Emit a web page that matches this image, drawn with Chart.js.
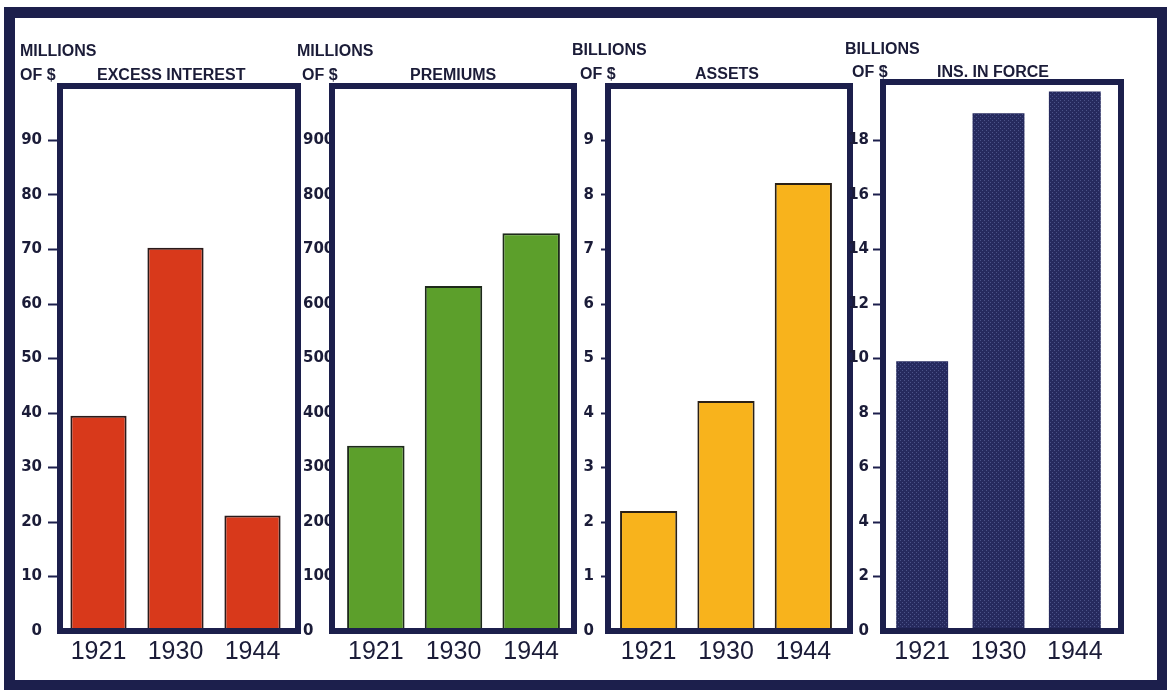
<!DOCTYPE html>
<html>
<head>
<meta charset="utf-8">
<title>Excess Interest, Premiums, Assets, Insurance in Force — 1921, 1930, 1944</title>
<script src="https://cdn.jsdelivr.net/npm/chart.js@4.4.1/dist/chart.umd.min.js"></script>
<style>
  html, body { margin: 0; padding: 0; background: #ffffff; }
  body { width: 1167px; height: 690px; position: relative; overflow: hidden; }
  #frame {
    position: absolute; left: 4px; top: 7px; width: 1142px; height: 662px;
    border: 11px solid #1c1f4c; box-sizing: content-box;
  }
  canvas { position: absolute; top: 0; }
</style>
</head>
<body>
<div id="frame"></div>
<div id="stage"></div>
<script>
// ---- data ----
const years = ['1921', '1930', '1944'];
const excessInterest = [39.5, 70.3, 21.2];   // millions of $
const premiums = [340, 633, 730];            // millions of $
const assets = [2.2, 4.22, 8.22];            // billions of $
const insInForce = [9.9, 19.0, 19.8];        // billions of $

const unitLines = ['MILLIONS', 'MILLIONS', 'BILLIONS', 'BILLIONS'];
const panelTitles = ['EXCESS INTEREST', 'PREMIUMS', 'ASSETS', 'INS. IN FORCE'];
const axisMax = [100, 1000, 10, 20];
const axisStep = [10, 100, 1, 2];

// ---- styling ----
const NAVY = '#1c1f4c';
const INK = '#1b1c38';
const TICK_FONT = { family: '"DejaVu Sans"', size: 15, weight: 'bold' };
const YEAR_FONT = { family: '"Liberation Sans"', size: 25, weight: 'normal' };
const TITLE_FONT = 'bold 16px "Liberation Sans"';

// halftone-like fill for the navy bars
function speckle(base, dot) {
  const c = document.createElement('canvas');
  c.width = 4; c.height = 4;
  const g = c.getContext('2d');
  g.fillStyle = base; g.fillRect(0, 0, 4, 4);
  g.fillStyle = dot;
  g.fillRect(0, 0, 1, 1); g.fillRect(2, 2, 1, 1);
  return g.createPattern(c, 'repeat');
}

// per-panel layout (page pixels)
const panels = [
  { values: excessInterest, color: '#d8391b', edge: '#2a1a1a', border: 2,
    canvasLeft: 15, padLeft: 0, axisWidth: 45, areaWidth: 231, box: { l: 0, r: 7, t: 0 },
    tickLen: 12, tickPad: 6, align: 'near', barPct: 0.73,
    text: [[unitLines[0], 20, 56], ['OF $', 20, 80], [panelTitles[0], 97, 80]] },
  { values: premiums, color: '#5c9f2b', edge: '#1d2a1a', border: 2,
    canvasLeft: 296, padLeft: 7, axisWidth: 34, areaWidth: 233, box: { l: -5, r: 4, t: 0 },
    tickLen: 0, tickPad: 0, align: 'far', barPct: 0.74,
    text: [[unitLines[1], 297, 56], ['OF $', 302, 80], [panelTitles[1], 410, 80]] },
  { values: assets, color: '#f8b31c', edge: '#2a2016', border: 2,
    canvasLeft: 568, padLeft: 0, axisWidth: 42, areaWidth: 232, box: { l: -2, r: 8, t: 0 },
    tickLen: 9, tickPad: 7, align: 'near', barPct: 0.74,
    text: [[unitLines[2], 572, 55], ['OF $', 580, 79], [panelTitles[2], 695, 79]] },
  { values: insInForce, color: null, edge: NAVY, border: 0,
    canvasLeft: 840, padLeft: 0, axisWidth: 44, areaWidth: 229, box: { l: -1, r: 8, t: -4 },
    tickLen: 11, tickPad: 4, align: 'near', barPct: 0.68,
    text: [[unitLines[3], 845, 54], ['OF $', 852, 77], [panelTitles[3], 937, 77]] }
];

// draws the heavy panel box and the panel headings
const panelFrame = {
  id: 'panelFrame',
  afterDatasetsDraw(chart, args, opts) {
    const a = chart.chartArea, b = opts.box, ctx = chart.ctx;
    ctx.save();
    ctx.strokeStyle = NAVY;
    ctx.lineWidth = 6;
    ctx.lineJoin = 'miter';
    ctx.strokeRect(a.left + b.l, a.top + b.t, (a.right + b.r) - (a.left + b.l), a.bottom - (a.top + b.t));
    ctx.restore();
  },
  afterDraw(chart, args, opts) {
    const ctx = chart.ctx;
    ctx.save();
    ctx.font = TITLE_FONT;
    ctx.fillStyle = INK;
    ctx.textBaseline = 'alphabetic';
    ctx.textAlign = 'left';
    opts.text.forEach(([s, x, y]) => ctx.fillText(s, x - opts.offset, y));
    ctx.restore();
  }
};

const stage = document.getElementById('stage');
const TOP = 86, BOTTOM_PAD = 29, XAXIS_H = 30, H = 690;

panels.forEach((p, i) => {
  const cv = document.createElement('canvas');
  const width = p.padLeft + p.axisWidth + p.areaWidth + 14;
  cv.width = width; cv.height = H;
  cv.style.left = p.canvasLeft + 'px';
  cv.style.width = width + 'px'; cv.style.height = H + 'px';
  stage.appendChild(cv);

  const max = axisMax[i];
  const fill = p.color || speckle('#262a5e', '#4b5388');

  new Chart(cv.getContext('2d'), {
    type: 'bar',
    data: {
      labels: years,
      datasets: [{
        data: p.values,
        backgroundColor: fill,
        borderColor: p.edge,
        borderWidth: p.border,
        borderSkipped: 'bottom',
        barPercentage: p.barPct,
        categoryPercentage: 1
      }]
    },
    options: {
      responsive: false,
      animation: false,
      devicePixelRatio: 1,
      layout: { padding: { left: p.padLeft, right: 14, top: TOP, bottom: BOTTOM_PAD } },
      plugins: {
        legend: { display: false },
        tooltip: { enabled: false },
        panelFrame: { box: p.box, text: p.text, offset: p.canvasLeft }
      },
      scales: {
        x: {
          grid: { display: false, drawTicks: false },
          border: { display: false },
          ticks: { font: YEAR_FONT, color: INK, padding: 6, maxRotation: 0 },
          afterFit(s) { s.height = XAXIS_H; }
        },
        y: {
          min: 0, max: max,
          ticks: {
            stepSize: axisStep[i], font: TICK_FONT, color: INK, padding: p.tickPad,
            crossAlign: p.align,
            callback: v => (v === max ? '' : String(v))
          },
          grid: {
            drawOnChartArea: false,
            drawTicks: p.tickLen > 0,
            tickLength: p.tickLen,
            tickWidth: 2,
            tickColor: c => (c.tick && (c.tick.value === 0 || c.tick.value === max)) ? 'rgba(0,0,0,0)' : NAVY
          },
          border: { display: false },
          afterFit(s) { s.width = p.axisWidth; }
        }
      }
    },
    plugins: [panelFrame]
  });
});
</script>
</body>
</html>
